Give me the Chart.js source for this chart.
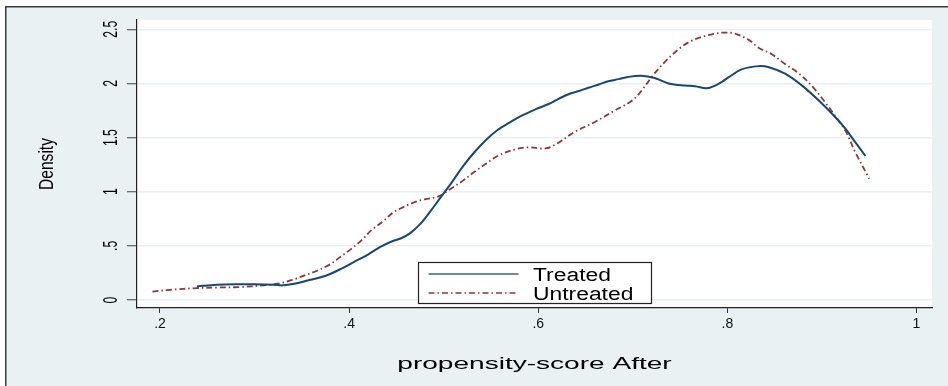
<!DOCTYPE html>
<html>
<head>
<meta charset="utf-8">
<script src="https://cdn.jsdelivr.net/npm/chart.js@4.4.1/dist/chart.umd.min.js"></script>
<style>
  html, body { margin: 0; padding: 0; background: #fff; }
  canvas { display: block; }
</style>
</head>
<body>
<canvas id="chart" width="948" height="386"></canvas>
<script>
// kernel density, treated group
const treatedX = [0.239, 0.26, 0.28, 0.30, 0.32, 0.33, 0.342, 0.356, 0.37, 0.38, 0.392, 0.405, 0.42, 0.433, 0.445, 0.455, 0.465, 0.475, 0.486, 0.497, 0.508, 0.52, 0.532, 0.545, 0.557, 0.57, 0.582, 0.597, 0.611, 0.622, 0.632, 0.643, 0.653, 0.664, 0.674, 0.685, 0.695, 0.709, 0.723, 0.738, 0.755, 0.766, 0.778, 0.787, 0.795, 0.802, 0.815, 0.833, 0.844, 0.861, 0.879, 0.897, 0.914, 0.925, 0.935, 0.946];
const treatedY = [0.125, 0.14, 0.145, 0.145, 0.14, 0.135, 0.15, 0.18, 0.21, 0.24, 0.29, 0.35, 0.42, 0.49, 0.54, 0.57, 0.62, 0.70, 0.82, 0.95, 1.08, 1.23, 1.36, 1.48, 1.57, 1.64, 1.70, 1.76, 1.81, 1.86, 1.90, 1.93, 1.96, 1.99, 2.02, 2.04, 2.06, 2.07, 2.05, 2.00, 1.98, 1.975, 1.955, 1.98, 2.02, 2.06, 2.13, 2.16, 2.15, 2.09, 1.98, 1.84, 1.69, 1.58, 1.46, 1.33];

// kernel density, untreated group
const untreatedX = [0.192, 0.211, 0.239, 0.26, 0.285, 0.309, 0.324, 0.34, 0.352, 0.366, 0.38, 0.391, 0.402, 0.413, 0.423, 0.435, 0.447, 0.458, 0.468, 0.48, 0.494, 0.508, 0.52, 0.532, 0.545, 0.557, 0.575, 0.589, 0.608, 0.621, 0.638, 0.659, 0.681, 0.699, 0.709, 0.72, 0.734, 0.749, 0.759, 0.773, 0.787, 0.797, 0.808, 0.823, 0.833, 0.847, 0.861, 0.876, 0.89, 0.903, 0.914, 0.925, 0.935, 0.95];
const untreatedY = [0.078, 0.094, 0.11, 0.115, 0.12, 0.135, 0.15, 0.185, 0.225, 0.27, 0.33, 0.40, 0.47, 0.55, 0.64, 0.72, 0.81, 0.86, 0.90, 0.93, 0.955, 1.03, 1.10, 1.18, 1.26, 1.33, 1.39, 1.41, 1.40, 1.45, 1.55, 1.64, 1.75, 1.84, 1.93, 2.06, 2.20, 2.32, 2.38, 2.43, 2.46, 2.47, 2.46, 2.40, 2.33, 2.27, 2.18, 2.09, 1.97, 1.83, 1.70, 1.56, 1.37, 1.12];

const seriesNames = ["Treated", "Untreated"];
const xTicks = [0.2, 0.4, 0.6, 0.8, 1];
const xTickLabels = [".2", ".4", ".6", ".8", "1"];
const yTicks = [0, 0.5, 1, 1.5, 2, 2.5];
const yTickLabels = ["0", ".5", "1", "1.5", "2", "2.5"];
const xTitle = "propensity-score After";
const yTitle = "Density";

const ff = '"Liberation Sans", Arial, Helvetica, sans-serif';
const ffNarrow = '"Liberation Sans Narrow", "Arial Narrow", "Liberation Sans", Arial, sans-serif';

function txt(ctx, s, x, y, o) {
  ctx.save();
  ctx.translate(x, y);
  if (o.rot) ctx.rotate(o.rot);
  ctx.scale(o.sx || 1, o.sy || 1);
  ctx.font = o.font;
  ctx.textAlign = o.align || "center";
  ctx.textBaseline = "alphabetic";
  ctx.fillStyle = o.color || "#000";
  ctx.fillText(s, 0, 0);
  ctx.restore();
}

// pick a size so the rotated text has the wanted length and thickness
function fitRot(ctx, sample, len, thick, em) {
  ctx.save();
  ctx.font = `20px ${ffNarrow}`;
  const w = ctx.measureText(sample).width;
  ctx.restore();
  const fs = (20 * len) / w;
  return { fs, sy: thick / (em * fs) };
}

const bg = {
  id: "bg",
  beforeDraw(chart) {
    const { ctx, chartArea: a, width: w, height: h } = chart;
    ctx.save();
    ctx.fillStyle = "#fff";
    ctx.fillRect(0, 0, w, h);
    ctx.fillStyle = "#e9f1f3";
    ctx.fillRect(5, 6, w - 5, h - 6);
    ctx.strokeStyle = "#3a3a3a";
    ctx.lineWidth = 1.5;
    ctx.beginPath();
    ctx.moveTo(5.75, h);
    ctx.lineTo(5.75, 6.75);
    ctx.lineTo(w, 6.75);
    ctx.stroke();
    ctx.fillStyle = "#fff";
    ctx.fillRect(a.left, a.top, a.right - a.left, a.bottom - a.top);
    ctx.restore();
  },
};

const texts = {
  id: "texts",
  afterDraw(chart) {
    const { ctx, chartArea: a } = chart;
    const y = chart.scales.y;
    const cx = (a.left + a.right) / 2;

    // y tick labels, rotated like Stata does
    const tk = fitRot(ctx, "1.5", 17, 15, 0.716);
    y.ticks.forEach((t, i) => {
      txt(ctx, yTickLabels[i], a.left - 20.5, y.getPixelForValue(t.value), {
        rot: -Math.PI / 2, sy: tk.sy, font: `${tk.fs}px ${ffNarrow}`,
      });
    });
    const tt = fitRot(ctx, yTitle, 52, 19, 0.926);
    txt(ctx, yTitle, a.left - 84.3, (a.top + a.bottom) / 2, {
      rot: -Math.PI / 2, sy: tt.sy, font: `${tt.fs}px ${ffNarrow}`,
    });
    txt(ctx, xTitle, cx, a.bottom + 61, { sx: 1.7, font: `16.5px ${ff}` });

    // legend box inside the plot
    const bw = 233, bh = 41;
    const bx = Math.round(cx - bw / 2) + 0.5, by = Math.round(a.bottom - 5 - bh) + 0.5;
    ctx.save();
    ctx.fillStyle = "#fff";
    ctx.fillRect(bx, by, bw, bh);
    ctx.strokeStyle = "#222";
    ctx.lineWidth = 1.2;
    ctx.strokeRect(bx, by, bw, bh);
    chart.data.datasets.forEach((ds, i) => {
      const ly = by + 11.5 + i * 19;
      ctx.strokeStyle = i === 0 ? "#6f8aa6" : ds.borderColor;
      ctx.lineWidth = i === 0 ? 2 : 1.6;
      ctx.setLineDash(ds.borderDash || []);
      ctx.beginPath();
      ctx.moveTo(bx + 10, ly);
      ctx.lineTo(bx + 100, ly);
      ctx.stroke();
      ctx.setLineDash([]);
      txt(ctx, ds.label, bx + 114.5, ly + 6.5, { sx: 1.27, font: `18px ${ff}`, align: "left" });
    });
    ctx.restore();
  },
};

new Chart(document.getElementById("chart"), {
  type: "line",
  data: {
    datasets: [
      {
        label: seriesNames[0],
        data: treatedX.map((x, i) => ({ x, y: treatedY[i] })),
        borderColor: "#1a476f",
        borderWidth: 2,
        pointRadius: 0,
        tension: 0.35,
        fill: false,
      },
      {
        label: seriesNames[1],
        data: untreatedX.map((x, i) => ({ x, y: untreatedY[i] })),
        borderColor: "#90353b",
        borderWidth: 1.8,
        borderDash: [6, 3, 1.5, 3],
        pointRadius: 0,
        tension: 0.35,
        fill: false,
      },
    ],
  },
  options: {
    responsive: false,
    animation: false,
    devicePixelRatio: 1,
    layout: { padding: { top: 20, right: 16, left: 0, bottom: 0 } },
    plugins: { legend: { display: false }, tooltip: { enabled: false } },
    scales: {
      x: {
        type: "linear",
        min: 0.1757,
        max: 1.0164,
        afterBuildTicks: (s) => { s.ticks = xTicks.map((v) => ({ value: v })); },
        afterFit: (s) => { s.height = 78; },
        grid: { drawOnChartArea: false, drawTicks: true, tickLength: 5, tickColor: "#333", tickWidth: 1 },
        border: { display: true, color: "#222", width: 1.2 },
        ticks: {
          callback: (v, i) => xTickLabels[i],
          font: { family: ff, size: 14 },
          color: "#111",
          padding: 3,
          maxRotation: 0,
          autoSkip: false,
        },
      },
      y: {
        min: -0.074,
        max: 2.586,
        afterBuildTicks: (s) => { s.ticks = yTicks.map((v) => ({ value: v })); },
        afterFit: (s) => { s.width = 137; },
        grid: { color: "#e9f0f1", lineWidth: 1.5, tickColor: "#444", tickLength: 10, tickWidth: 1 },
        border: { display: true, color: "#222", width: 1.2 },
        ticks: { display: false },
      },
    },
  },
  plugins: [bg, texts],
});
</script>
</body>
</html>
